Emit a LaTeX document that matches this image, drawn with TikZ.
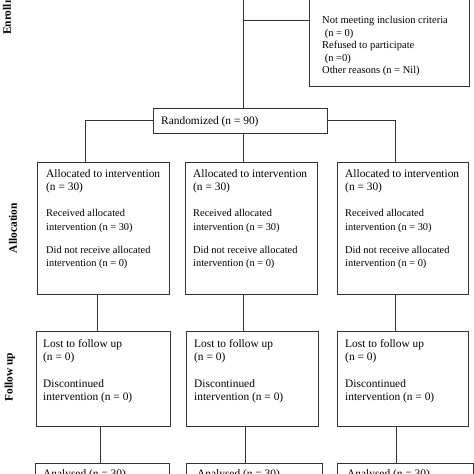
\documentclass[tikz,border=0pt]{standalone}
\usepackage{fontspec}
\setmainfont{Liberation Serif}
\newcommand{\bigtxt}{\fontsize{11.4}{13.5}\selectfont}
\newcommand{\smtxt}{\fontsize{10.4}{13.5}\selectfont}
\begin{document}
\begin{tikzpicture}[x=1pt,y=-1pt,
  box/.style={draw=black!80,line width=0.8pt,rectangle,inner sep=0pt,minimum width=#1},
  txt/.style={inner sep=0pt,anchor=north west,align=left,font=\bigtxt,text=black},
  phase/.style={inner sep=0pt,rotate=90,font=\fontsize{11.4}{12}\selectfont\bfseries,text=black},
  conn/.style={draw=black!80,line width=0.8pt}]
\useasboundingbox (0,0) rectangle (474,474);
\clip (0,0) rectangle (474,474);
\fill[white] (0,0) rectangle (474,474);

% phase labels
\node[phase,anchor=west] (enr) at (7,35) {Enrollment};
\node[phase] (alloc) at (13,228) {Allocation};
\node[phase] (fup) at (10,377) {Follow up};

% boxes
\node[box=160pt,minimum height=106pt] (excl) at (389,33) {};
\node[box=174pt,minimum height=25pt] (rand) at (240,120.5) {};
\node[box=132pt,minimum height=132pt] (a1) at (103,228) {};
\node[box=132pt,minimum height=132pt] (a2) at (251,228) {};
\node[box=131pt,minimum height=132pt] (a3) at (402.5,228) {};
\node[box=134pt,minimum height=95pt] (f1) at (103,378.5) {};
\node[box=132pt,minimum height=95pt] (f2) at (252,378.5) {};
\node[box=131pt,minimum height=95pt] (f3) at (402.5,378.5) {};
\node[box=134pt,minimum height=37pt] (n1) at (102,481.5) {};
\node[box=136pt,minimum height=37pt] (n2) at (254,481.5) {};
\node[box=136pt,minimum height=37pt] (n3) at (405,481.5) {};

% texts
\node[txt,font=\fontsize{10.5}{12.5}\selectfont] (exclt) at (322,16.5) {Not meeting inclusion criteria\\ \ (n = 0)\\Refused to participate\\ \ (n =0)\\Other reasons (n = Nil)};
\node[inner sep=0pt,anchor=base west,font=\bigtxt,text=black] (randt) at (161,124) {Randomized (n = 90)};
\foreach \i/\x in {1/46,2/193,3/345}{
  \node[txt] (at\i) at (\x,169) {Allocated to intervention\\(n = 30)\\[12.5pt]\smtxt Received allocated\\\smtxt intervention (n = 30)\\[9.5pt]\smtxt Did not receive allocated\\\smtxt intervention (n = 0)};
}
\foreach \i/\x in {1/43,2/194,3/345}{
  \node[txt] (ft\i) at (\x,339) {Lost to follow up\\(n = 0)\\[13pt]Discontinued\\intervention (n = 0)};
}
\foreach \i/\x in {1/43,2/197,3/347}{
  \node[txt] (nt\i) at (\x,469) {Analysed (n = 30)};
}

% connectors
\coordinate (top) at (243,-5);
\coordinate (split) at (243,20);
\draw[conn] (top) -- (top |- rand.north);
\draw[conn] (split) -- (split -| excl.west);
\draw[conn] (rand.west) -| ([xshift=-18pt]a1.north);
\draw[conn] ([xshift=3pt]rand.south) -- ([xshift=3pt]rand.south |- a2.north);
\draw[conn] (rand.east) -| ([xshift=-7.5pt]a3.north);
\draw[conn] ([xshift=-6pt]a1.south) -- ([xshift=-6pt]a1.south |- f1.north);
\draw[conn] ([xshift=-8pt]a2.south) -- ([xshift=-8pt]a2.south |- f2.north);
\draw[conn] ([xshift=-7.5pt]a3.south) -- ([xshift=-7.5pt]a3.south |- f3.north);
\draw[conn] ([xshift=-3pt]f1.south) -- ([xshift=-3pt]f1.south |- n1.north);
\draw[conn] ([xshift=-7pt]f2.south) -- ([xshift=-7pt]f2.south |- n2.north);
\draw[conn] ([xshift=-6.5pt]f3.south) -- ([xshift=-6.5pt]f3.south |- n3.north);
\end{tikzpicture}
\end{document}
